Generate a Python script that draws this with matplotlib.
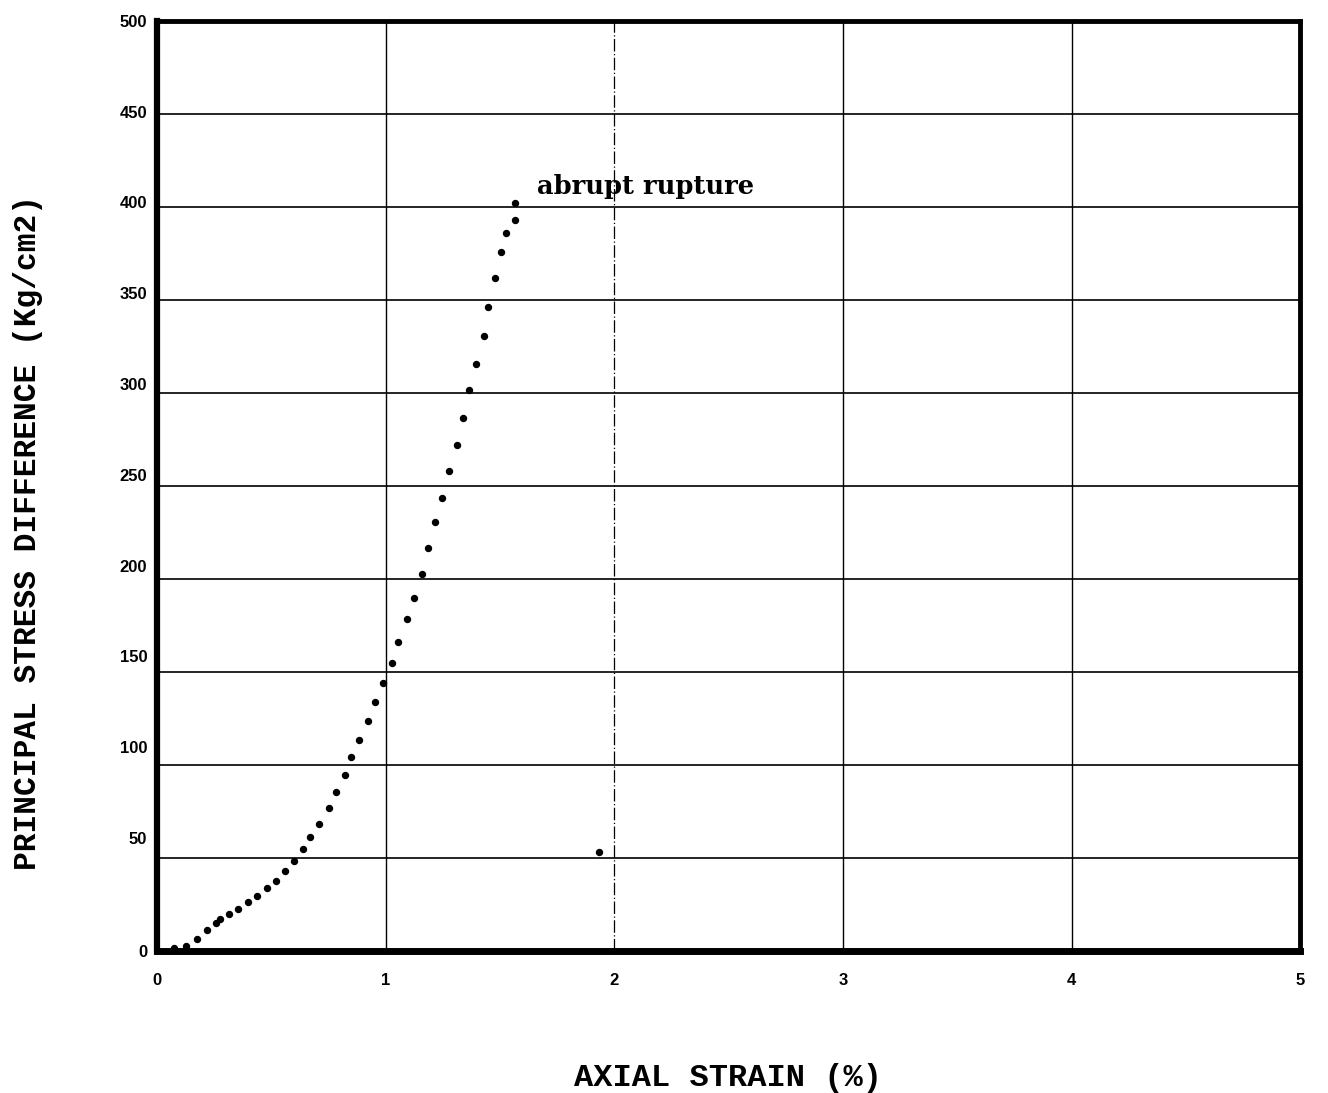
import matplotlib
matplotlib.use("Agg")
import matplotlib.pyplot as plt
import matplotlib.transforms as mtransforms

# measured points (axial strain %, principal stress difference kg/cm2)
strain = [0.074, 0.125, 0.175, 0.217, 0.256, 0.276, 0.316, 0.356, 0.397, 0.437,
          0.480, 0.519, 0.560, 0.599, 0.637, 0.671, 0.709, 0.752, 0.784, 0.822,
          0.850, 0.884, 0.923, 0.955, 0.989, 1.027, 1.054, 1.094, 1.126, 1.158,
          1.187, 1.216, 1.247, 1.276, 1.311, 1.337, 1.365, 1.395, 1.429, 1.446,
          1.476, 1.505, 1.525, 1.566, 1.566, 1.931]
stress = [1.5, 2.8, 6.6, 11.2, 15.2, 17.2, 19.9, 22.7, 26.2, 29.6,
          33.7, 37.8, 43.2, 48.4, 54.8, 61.3, 68.4, 77.0, 85.5, 94.6,
          104.1, 113.5, 123.5, 133.8, 144.0, 154.8, 166.1, 178.3, 190.0, 202.9,
          216.9, 230.4, 243.6, 258.2, 272.0, 286.7, 301.6, 315.6, 330.6, 346.4,
          361.8, 375.8, 386.2, 393.0, 402.0, 53.2]

x_ticks = [0, 1, 2, 3, 4, 5]
y_ticks = [0, 50, 100, 150, 200, 250, 300, 350, 400, 450, 500]

fig = plt.figure(figsize=(13.28, 10.93), dpi=100)
ax = fig.add_axes([0.1182, 0.1299, 0.861, 0.8509])

ax.set_xlim(0, 5)
ax.set_ylim(0, 500)

# grid lines
for y in y_ticks[1:-1]:
    ax.axhline(y, color="black", lw=1.2, zorder=1)
for x in x_ticks[1:-1]:
    if x == 2:
        ax.axvline(x, color="black", lw=0.9, ls=(0, (10, 2, 1, 2)), zorder=1)
    else:
        ax.axvline(x, color="black", lw=1.0, zorder=1)

ax.plot(strain, stress, "o", color="black", markersize=4.3, zorder=4,
        clip_on=False)

ax.text(1.66, 411, "abrupt rupture", fontsize=18.5, fontweight="bold",
        family="DejaVu Serif", ha="left", va="center")

for side, w in [("left", 4.5), ("bottom", 5), ("top", 3.5), ("right", 3.5)]:
    ax.spines[side].set_linewidth(w)
    ax.spines[side].set_color("black")

ax.tick_params(length=0)
ax.set_xticks(x_ticks)
ax.set_xticklabels([str(v) for v in x_ticks], fontsize=12, fontweight="bold",
                   family="Liberation Sans")
ax.tick_params(axis="x", pad=16)
ax.set_yticks(y_ticks)
ax.set_yticklabels([str(v) for v in y_ticks], fontsize=12, fontweight="bold",
                   family="Liberation Sans")
ax.tick_params(axis="y", pad=7)
# the printed labels creep upward from the grid lines in the original
for v, lab in zip(y_ticks, ax.get_yticklabels()):
    dy = 0 if v == 0 else (500 - v) * 0.045
    lab.set_transform(lab.get_transform() +
                      mtransforms.ScaledTranslation(0, dy / 100, fig.dpi_scale_trans))

fig.text(728 / 1328, 1 - 1078 / 1093, "AXIAL STRAIN (%)", fontsize=23,
         fontweight="bold", family="Liberation Mono", ha="center", va="center")
fig.text(28 / 1328, 1 - 532 / 1093, "PRINCIPAL STRESS DIFFERENCE (Kg/cm2)",
         fontsize=22.5, fontweight="bold", family="Liberation Mono",
         rotation=90, ha="center", va="center")

fig.savefig("out.png", dpi=100)
